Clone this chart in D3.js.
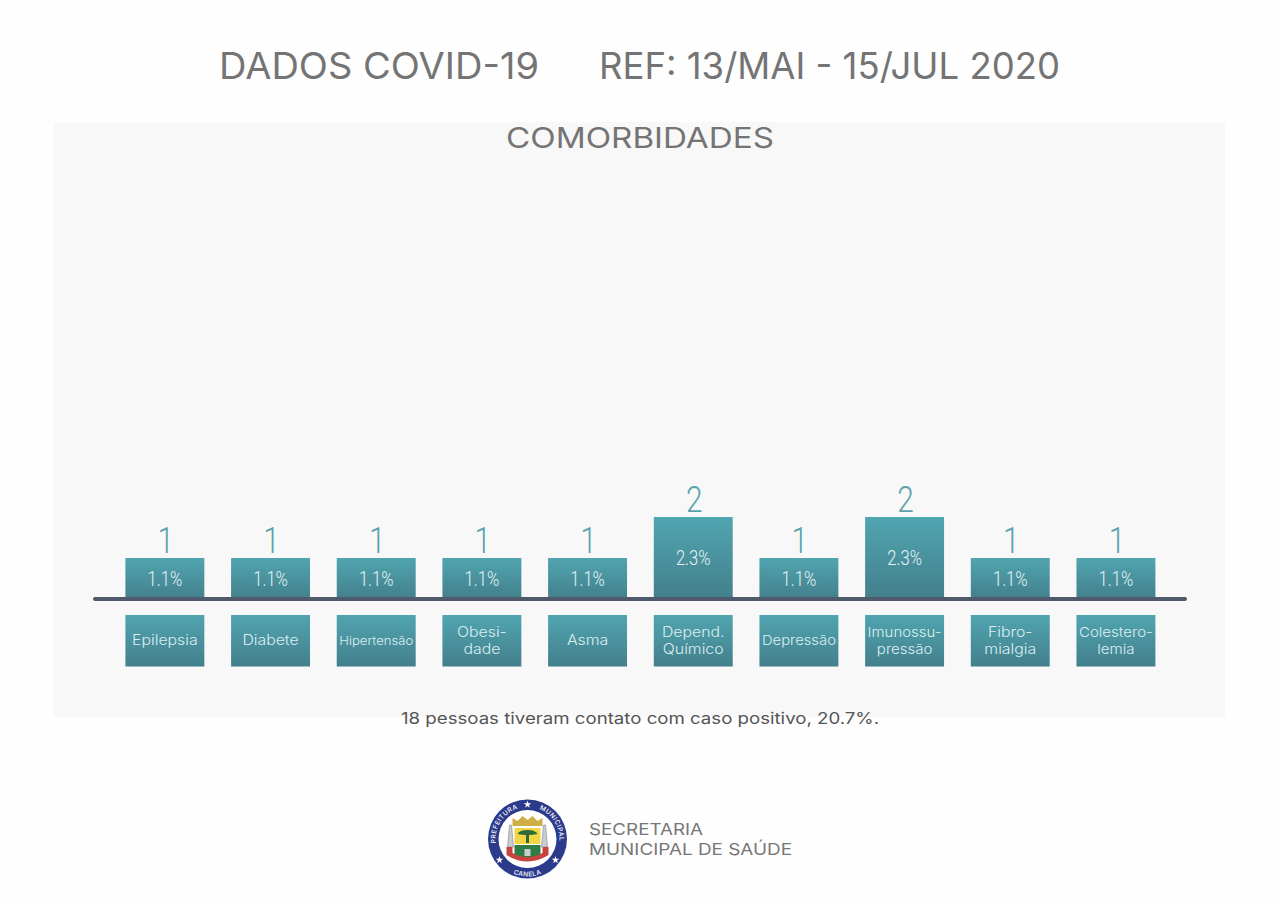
<!DOCTYPE html>
<html>
<head>
<meta charset="utf-8">
<script src="https://d3js.org/d3.v7.min.js"></script>
<style>
html, body { margin: 0; padding: 0; background: #fefefe; }
svg { display: block; }
text { font-family: Inter, "Open Sans", sans-serif; }
.num { font-family: Roboto, "Liberation Sans", sans-serif; font-weight: 300; }
</style>
</head>
<body>
<script>
var w = 1280;
var h = 905;

var categories = ["Epilepsia", "Diabete", "Hipertensão", "Obesi-|dade", "Asma", "Depend.|Químico", "Depressão", "Imunossu-|pressão", "Fibro-|mialgia", "Colestero-|lemia"];
var counts = [1, 1, 1, 1, 1, 2, 1, 2, 1, 1];
var percents = ["1.1%", "1.1%", "1.1%", "1.1%", "1.1%", "2.3%", "1.1%", "2.3%", "1.1%", "1.1%"];

var base_y = 599;
var unit_h = 41;
var label_size = 14;
var label_stretch = 1.13;
var label_max = 74;
var num_squeeze = 0.83;

var svg = d3.select("body").append("svg")
    .attr("width", w)
    .attr("height", h);

var defs = svg.append("defs");
var grad = defs.append("linearGradient")
    .attr("id", "teal")
    .attr("x1", 0).attr("y1", 0).attr("x2", 0).attr("y2", 1);
grad.append("stop").attr("offset", "0%").attr("stop-color", "#50a5b0");
grad.append("stop").attr("offset", "100%").attr("stop-color", "#437f8c");

// panel
svg.append("rect")
    .attr("x", 54).attr("y", 122)
    .attr("width", 1171).attr("height", 595)
    .attr("fill", "#f8f8f8");

// the original faces are wider or narrower than anything installed
function wide(sel, len) {
    return sel.attr("textLength", len).attr("lengthAdjust", "spacingAndGlyphs");
}

// titles
wide(svg.append("text")
    .attr("x", 219).attr("y", 79)
    .attr("font-size", 36.5).attr("fill", "#747474")
    .text("DADOS COVID-19"), 320);
wide(svg.append("text")
    .attr("x", 599).attr("y", 79)
    .attr("font-size", 36.5).attr("fill", "#747474")
    .text("REF: 13/MAI - 15/JUL 2020"), 461);
wide(svg.append("text")
    .attr("x", 506).attr("y", 148)
    .attr("font-size", 28.5).attr("fill", "#747474")
    .text("COMORBIDADES"), 268);

var x = d3.scaleBand()
    .domain(d3.range(categories.length))
    .range([125.4, 1155.4])
    .paddingInner(0.253)
    .paddingOuter(0);

var y = d3.scaleLinear()
    .domain([0, 2])
    .range([base_y, base_y - 2 * unit_h]);

// bars
var bars = svg.append("g").selectAll("g")
    .data(counts)
    .enter().append("g");

bars.append("rect")
    .attr("x", function (d, i) { return x(i); })
    .attr("y", function (d) { return y(d); })
    .attr("width", x.bandwidth())
    .attr("height", function (d) { return y(0) - y(d); })
    .attr("fill", "url(#teal)");

bars.append("text")
    .attr("class", "num")
    .attr("x", function (d, i) { return x(i) + x.bandwidth() / 2; })
    .attr("y", function (d) { return y(d) + (y(0) - y(d)) / 2 + 7; })
    .attr("text-anchor", "middle")
    .attr("font-size", 20)
    .attr("fill", "#e6f3f4")
    .text(function (d, i) { return percents[i]; })
    .each(function () { wide(d3.select(this), this.getComputedTextLength() * num_squeeze); });

bars.append("text")
    .attr("class", "num")
    .attr("x", function (d, i) { return x(i) + x.bandwidth() / 2 + 1; })
    .attr("y", function (d) { return y(d) - 5; })
    .attr("text-anchor", "middle")
    .attr("font-size", 36)
    .attr("font-weight", 400)
    .attr("fill", "#5aa3ac")
    .text(function (d) { return d; })
    .each(function () { wide(d3.select(this), this.getComputedTextLength() * num_squeeze); });

// axis line
svg.append("line")
    .attr("x1", 95).attr("x2", 1185)
    .attr("y1", base_y).attr("y2", base_y)
    .attr("stroke", "#4f5a6c")
    .attr("stroke-width", 4)
    .attr("stroke-linecap", "round");

// category boxes
var boxes = svg.append("g").selectAll("g")
    .data(categories)
    .enter().append("g");

boxes.append("rect")
    .attr("x", function (d, i) { return x(i); })
    .attr("y", 615)
    .attr("width", x.bandwidth())
    .attr("height", 51.5)
    .attr("fill", "url(#teal)");

boxes.each(function (d, i) {
    var lines = d.split("|");
    var cx = x(i) + x.bandwidth() / 2;
    var top = lines.length == 1 ? 645 : 637;
    var texts = d3.select(this).selectAll("text")
        .data(lines)
        .enter().append("text")
        .attr("x", cx)
        .attr("y", function (l, k) { return top + k * 17; })
        .attr("text-anchor", "middle")
        .attr("font-size", label_size)
        .attr("font-weight", 300)
        .attr("fill", "#dcEef0")
        .text(function (l) { return l; });

    // shrink the long words so they stay inside the box, as in the original
    var longest = 0;
    texts.each(function () { longest = Math.max(longest, this.getComputedTextLength()); });
    var k = Math.min(1, label_max / (longest * label_stretch));
    texts.each(function () {
        var len = this.getComputedTextLength() * label_stretch * k;
        d3.select(this).attr("font-size", label_size * k);
        wide(d3.select(this), len);
    });
});

// note
wide(svg.append("text")
    .attr("x", 401).attr("y", 724)
    .attr("font-size", 16)
    .attr("fill", "#555555")
    .text("18 pessoas tiveram contato com caso positivo, 20.7%."), 478);

// logo
var logo = svg.append("g").attr("transform", "translate(527.5,839)");
logo.append("circle").attr("r", 39.5).attr("fill", "#2c3a8c");
logo.append("circle").attr("r", 29).attr("fill", "#ffffff");
logo.append("path").attr("id", "ring_top").attr("fill", "none")
    .attr("d", "M0,32 A32,32 0 1 1 0,-32 A32,32 0 1 1 0,32");
logo.append("path").attr("id", "ring_bottom").attr("fill", "none")
    .attr("d", "M-37.5,0 A37.5,37.5 0 0 0 37.5,0");
logo.append("text").attr("font-size", 6.5).attr("font-weight", 500).attr("fill", "#ffffff").attr("letter-spacing", 0.5)
    .append("textPath").attr("href", "#ring_top").attr("startOffset", "34%").attr("text-anchor", "middle")
    .text("PREFEITURA");
logo.append("text").attr("font-size", 6.5).attr("font-weight", 500).attr("fill", "#ffffff").attr("letter-spacing", 0.5)
    .append("textPath").attr("href", "#ring_top").attr("startOffset", "66%").attr("text-anchor", "middle")
    .text("MUNICIPAL");
logo.append("text").attr("font-size", 6.5).attr("font-weight", 500).attr("fill", "#ffffff").attr("letter-spacing", 0.5)
    .append("textPath").attr("href", "#ring_bottom").attr("startOffset", "50%").attr("text-anchor", "middle")
    .text("CANELA");
[[0, -34.5], [-28, 21], [28, 21]].forEach(function (p) {
    logo.append("path")
        .attr("d", d3.symbol(d3.symbolStar, 18)())
        .attr("transform", "translate(" + p[0] + "," + p[1] + ")")
        .attr("fill", "#ffffff");
});
// towers
logo.append("path").attr("d", "M-20,8 L-18,-14 L-16,-14 L-14,8 Z M20,8 L18,-14 L16,-14 L14,8 Z")
    .attr("fill", "#c9cdd0").attr("stroke", "#8d9396").attr("stroke-width", 0.7);
// crown
logo.append("path").attr("d", "M-15,-13 L-15,-21 L-10,-18 L-5,-23 L0,-19 L5,-23 L10,-18 L15,-21 L15,-13 Z").attr("fill", "#cfae45");
// shield
logo.append("rect").attr("x", -13).attr("y", -11).attr("width", 26).attr("height", 16).attr("fill", "#f2d544");
logo.append("path").attr("d", "M-10,-5 Q-8,-9 0,-9 Q8,-9 10,-5 Q5,-4 1.5,-4 L1.5,4 L-1.5,4 L-1.5,-4 Q-5,-4 -10,-5 Z").attr("fill", "#2e6b3a");
// hill
logo.append("path").attr("d", "M-13,6 L13,6 L13,16 Q0,21 -13,16 Z").attr("fill", "#2f7d46");
logo.append("rect").attr("x", -3).attr("y", 10).attr("width", 6).attr("height", 7).attr("fill", "#c9cdd0");
// ribbon
logo.append("path").attr("d", "M-21,8 L-15,8 L-15,14 Q0,22 15,14 L15,8 L21,8 L21,16 Q0,29 -21,16 Z").attr("fill", "#c8433f");

wide(svg.append("text")
    .attr("x", 589).attr("y", 835)
    .attr("font-size", 16.5).attr("fill", "#777777")
    .text("SECRETARIA"), 114);
wide(svg.append("text")
    .attr("x", 589).attr("y", 855)
    .attr("font-size", 16.5).attr("fill", "#777777")
    .text("MUNICIPAL DE SAÚDE"), 203);
</script>
</body>
</html>
